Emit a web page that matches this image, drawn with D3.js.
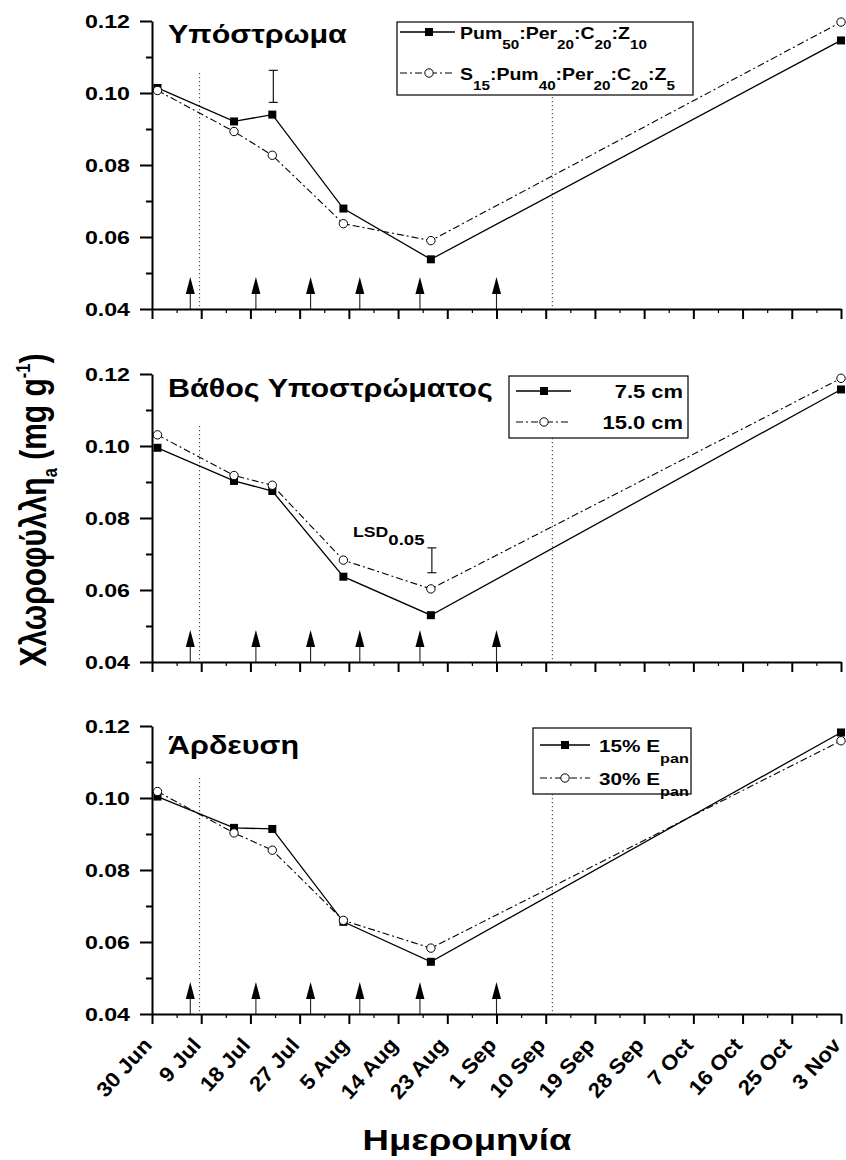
<!DOCTYPE html>
<html>
<head>
<meta charset="utf-8">
<script src="https://cdn.jsdelivr.net/npm/d3@7"></script>
<style>
  html, body { margin: 0; padding: 0; background: #fff; }
  svg { display: block; font-family: "Liberation Sans", Arial, sans-serif; }
</style>
</head>
<body>
<svg id="chart" width="846" height="1160"></svg>
<script>
/* ---- data ---- */
const sampleDates = ['1 Jul', '15 Jul', '22 Jul', '4 Aug', '20 Aug', '3 Nov'];

const substratePum = [0.1014, 0.0921, 0.0940, 0.0679, 0.0538, 0.1146];
const substrateS15 = [0.1007, 0.0893, 0.0827, 0.0637, 0.0590, 0.1197];

const depth75  = [0.0995, 0.0903, 0.0875, 0.0637, 0.0530, 0.1157];
const depth150 = [0.1031, 0.0918, 0.0891, 0.0683, 0.0603, 0.1188];

const irrig15 = [0.1004, 0.0917, 0.0914, 0.0656, 0.0545, 0.1182];
const irrig30 = [0.1018, 0.0903, 0.0855, 0.0660, 0.0583, 0.1159];

const tickLabels = ['30 Jun', '9 Jul', '18 Jul', '27 Jul', '5 Aug', '14 Aug', '23 Aug', '1 Sep',
                    '10 Sep', '19 Sep', '28 Sep', '7 Oct', '16 Oct', '25 Oct', '3 Nov'];
const yMajor = [0.04, 0.06, 0.08, 0.10, 0.12];
const yMinor = [0.05, 0.07, 0.09, 0.11];

const arrowDates  = ['7 Jul', '19 Jul', '29 Jul', '7 Aug', '18 Aug', '1 Sep'];
const dottedDates = ['8 Jul 17:00', '11 Sep 05:00'];
const dottedTop   = 0.1055;

// LSD bars: [date, low, high]
const lsdSubstrate = ['22 Jul', 0.0974, 0.1063];
const lsdDepth     = ['20 Aug', 0.0648, 0.0717];

const titles = ['Υπόστρωμα', 'Βάθος Υποστρώματος', 'Άρδευση'];
const legendSubstrate = [
  [['Pum'], ['50', 'sub'], [':Per'], ['20', 'sub'], [':C'], ['20', 'sub'], [':Z'], ['10', 'sub']],
  [['S'], ['15', 'sub'], [':Pum'], ['40', 'sub'], [':Per'], ['20', 'sub'], [':C'], ['20', 'sub'], [':Z'], ['5', 'sub']]
];
const legendDepth = [[['7.5 cm']], [['15.0 cm']]];
const legendIrrig = [[['15% E'], ['pan', 'sub']], [['30% E'], ['pan', 'sub']]];

/* ---- helpers ---- */
const parseD = d3.timeParse('%d %b %Y');
const parseDT = d3.timeParse('%d %b %H:%M %Y');
const day = s => s.includes(':') ? parseDT(s + ' 2005') : parseD(s + ' 2005');

const SX = 1.22;   // horizontal stretch of the lettering in the source figure

function richText(parent, px, py, parts, size, opt = {}) {
  const g = parent.append('g')
    .attr('transform', `translate(${px},${py}) ${opt.pre || ''} scale(${opt.sx || SX},1) ${opt.post || ''}`);
  const t = g.append('text')
    .attr('text-anchor', opt.anchor || 'start')
    .attr('font-size', size).attr('font-weight', 'bold').attr('fill', '#000');
  let off = 0;
  parts.forEach(([s, k]) => {
    const target = k === 'sub' ? size * (opt.sub || 0.55) : k === 'sup' ? -size * (opt.sup || 0.55) : 0;
    t.append('tspan').attr('dy', target - off)
      .attr('font-size', k ? size * (opt.small || 0.65) : size).text(s);
    off = target;
  });
  return t;
}

/* ---- layout ---- */
const svg = d3.select('#chart');
svg.append('rect').attr('width', 846).attr('height', 1160).attr('fill', '#fff');

const x = d3.scaleTime().domain([day('30 Jun'), day('3 Nov')]).range([152, 841]);
const tickDates = tickLabels.map(day);
const minorDates = tickDates.slice(1).map((d, i) => new Date((+d + +tickDates[i]) / 2));

const panelTops = [21, 374, 726], panelH = 288;

const panels = [
  { title: titles[0], a: substratePum, b: substrateS15, legend: legendSubstrate, lsd: lsdSubstrate, lsize: 16,
    titleY: 43, box: { x: 397, y: 22, w: 296, h: 73, rows: [10, 51], lineX: [3, 58], mk: 32, tx: 63, anchor: 'start' } },
  { title: titles[1], a: depth75, b: depth150, legend: legendDepth, lsd: lsdDepth, lsize: 18,
    titleY: 397, box: { x: 509, y: 376, w: 179, h: 62, rows: [15, 46], lineX: [7, 62], mk: 35, tx: 174, anchor: 'end' } },
  { title: titles[2], a: irrig15, b: irrig30, legend: legendIrrig, lsd: null, lsize: 17,
    titleY: 754, box: { x: 533, y: 728, w: 158, h: 66, rows: [17, 50], lineX: [7, 57], mk: 32, tx: 66, anchor: 'start' } }
];

const DASHDOT = '7,3,2,3';

panels.forEach((p, i) => {
  const top = panelTops[i], bottom = top + panelH;
  const y = d3.scaleLinear().domain([0.04, 0.12]).range([bottom, top]);
  const g = svg.append('g').attr('class', 'panel');

  /* dotted guide lines */
  g.selectAll('line.dot').data(dottedDates.map(day)).enter().append('line')
    .attr('class', 'dot')
    .attr('x1', d => x(d)).attr('x2', d => x(d))
    .attr('y1', y(dottedTop)).attr('y2', y(0.04))
    .attr('stroke', '#000').attr('stroke-width', 1).attr('stroke-dasharray', '1,3');

  /* arrows */
  const ar = g.selectAll('g.arrow').data(arrowDates.map(day)).enter().append('g').attr('class', 'arrow');
  ar.append('line')
    .attr('x1', d => x(d)).attr('x2', d => x(d))
    .attr('y1', bottom).attr('y2', bottom - 16)
    .attr('stroke', '#222').attr('stroke-width', 1.1);
  ar.append('path')
    .attr('d', d => `M${x(d) - 4.5},${bottom - 15}L${x(d) + 4.5},${bottom - 15}L${x(d)},${bottom - 32}Z`)
    .attr('fill', '#000');

  /* axes */
  const yAx = g.append('g').attr('transform', 'translate(152,0)')
    .call(d3.axisLeft(y).tickValues(yMajor).tickSize(12).tickSizeOuter(0).tickFormat(''));
  yAx.selectAll('path,line').attr('stroke', '#000').attr('stroke-width', 2);
  const yMin = g.append('g').attr('transform', 'translate(152,0)')
    .call(d3.axisLeft(y).tickValues(yMinor).tickSize(6).tickFormat(''));
  yMin.select('.domain').remove();
  yMin.selectAll('line').attr('stroke', '#000').attr('stroke-width', 2);

  const xAx = g.append('g').attr('transform', `translate(0,${bottom})`)
    .call(d3.axisBottom(x).tickValues(tickDates).tickSize(10).tickSizeOuter(0).tickFormat(''));
  xAx.selectAll('path,line').attr('stroke', '#000').attr('stroke-width', 2);
  const xMin = g.append('g').attr('transform', `translate(0,${bottom})`)
    .call(d3.axisBottom(x).tickValues(minorDates).tickSize(4).tickFormat(''));
  xMin.select('.domain').remove();
  xMin.selectAll('line').attr('stroke', '#000').attr('stroke-width', 1.2);

  yMajor.forEach(v => richText(g, 130, y(v) + 6.8, [[d3.format('.2f')(v)]], 19, { anchor: 'end' }));

  if (i === 2) {
    tickDates.forEach((d, k) =>
      richText(g, x(d) + 1, bottom + 32, [[tickLabels[k]]], 21,
        { anchor: 'end', pre: 'rotate(-48)', sx: 1.06 }));
  }

  /* series */
  const ptsA = sampleDates.map((d, k) => ({ d: day(d), v: p.a[k] }));
  const ptsB = sampleDates.map((d, k) => ({ d: day(d), v: p.b[k] }));
  const line = d3.line().x(d => x(d.d)).y(d => y(d.v));

  g.append('path').datum(ptsA).attr('d', line)
    .attr('fill', 'none').attr('stroke', '#000').attr('stroke-width', 1.3);
  g.append('path').datum(ptsB).attr('d', line)
    .attr('fill', 'none').attr('stroke', '#000').attr('stroke-width', 1.1).attr('stroke-dasharray', DASHDOT);

  g.selectAll('rect.sq').data(ptsA).enter().append('rect').attr('class', 'sq')
    .attr('x', d => x(d.d) - 4).attr('y', d => y(d.v) - 4).attr('width', 8).attr('height', 8).attr('fill', '#000');
  g.selectAll('circle.ci').data(ptsB).enter().append('circle').attr('class', 'ci')
    .attr('cx', d => x(d.d)).attr('cy', d => y(d.v)).attr('r', 4.2)
    .attr('fill', '#fff').attr('stroke', '#000').attr('stroke-width', 1);

  /* LSD bar */
  if (p.lsd) {
    const lx = x(day(p.lsd[0])) + 1;
    const eb = g.append('g').attr('stroke', '#000').attr('stroke-width', 1.1);
    eb.append('line').attr('x1', lx).attr('x2', lx).attr('y1', y(p.lsd[1])).attr('y2', y(p.lsd[2]));
    [p.lsd[1], p.lsd[2]].forEach(v =>
      eb.append('line').attr('x1', lx - 4.5).attr('x2', lx + 4.5).attr('y1', y(v)).attr('y2', y(v)));
  }
  if (i === 1) {
    richText(g, 353, 537, [['LSD'], ['0.05', 'sub']], 14.5, { sub: 0.55, small: 1.05 });
  }

  /* title */
  richText(g, 168, p.titleY, [[p.title]], 25);

  /* legend */
  const b = p.box;
  g.append('rect').attr('x', b.x).attr('y', b.y).attr('width', b.w).attr('height', b.h)
    .attr('fill', '#fff').attr('stroke', '#000').attr('stroke-width', 1.2);
  b.rows.forEach((ry, k) => {
    const yy = b.y + ry;
    g.append('line').attr('x1', b.x + b.lineX[0]).attr('x2', b.x + b.lineX[1]).attr('y1', yy).attr('y2', yy)
      .attr('stroke', '#000').attr('stroke-width', k ? 1.1 : 1.3).attr('stroke-dasharray', k ? DASHDOT : null);
    if (k === 0) {
      g.append('rect').attr('x', b.x + b.mk - 4).attr('y', yy - 4).attr('width', 8).attr('height', 8).attr('fill', '#000');
    } else {
      g.append('circle').attr('cx', b.x + b.mk).attr('cy', yy).attr('r', 4.2)
        .attr('fill', '#fff').attr('stroke', '#000').attr('stroke-width', 1);
    }
    richText(g, b.x + b.tx, yy + 6.5, p.legend[k], p.lsize, { anchor: b.anchor, sub: 0.66, small: 0.78 });
  });
});

/* axis titles */
richText(svg, 46, 510, [['Χλωροφύλλη'], ['a', 'sub'], [' (mg g'], ['-1', 'sup'], [')']], 30,
  { anchor: 'middle', post: 'rotate(-90)', sub: 0.3, sup: 0.45, small: 0.55 });
richText(svg, 467, 1150, [['Ημερομηνία']], 30, { anchor: 'middle' });
</script>
</body>
</html>
